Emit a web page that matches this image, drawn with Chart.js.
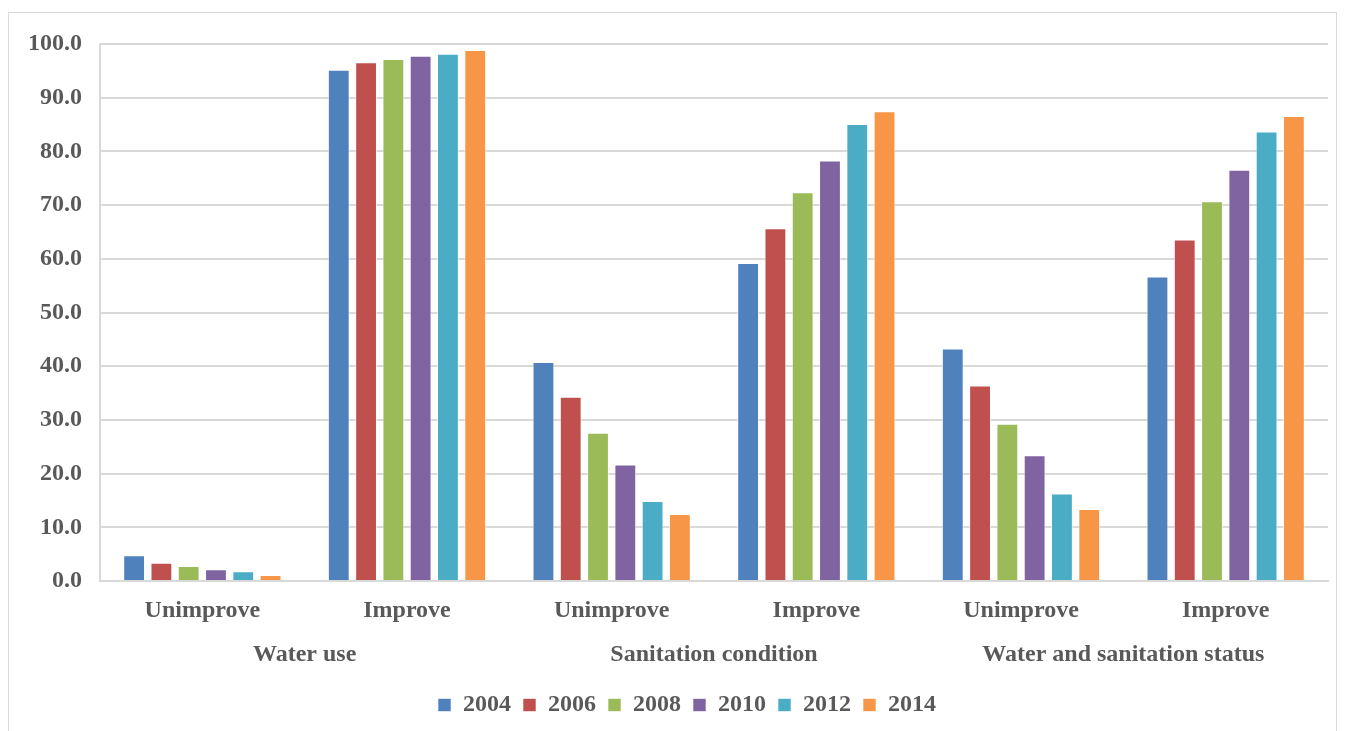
<!DOCTYPE html>
<html>
<head>
<meta charset="utf-8">
<script src="https://cdn.jsdelivr.net/npm/chart.js@4.4.1/dist/chart.umd.min.js"></script>
<style>
  html, body { margin: 0; padding: 0; background: #ffffff; }
  #frame { position: absolute; left: 8px; top: 12px; width: 1329px; height: 730px; border: 1px solid #d9d9d9; box-sizing: border-box; }
  #wrap { position: absolute; left: 0; top: 0; width: 1346px; height: 731px; }
</style>
</head>
<body>
<div id="frame"></div>
<div id="wrap"><canvas id="c" width="1346" height="731"></canvas></div>
<script>
const categories = ['Unimprove', 'Improve', 'Unimprove', 'Improve', 'Unimprove', 'Improve'];
const groups = ['Water use', 'Sanitation condition', 'Water and sanitation status'];
const years = ['2004', '2006', '2008', '2010', '2012', '2014'];
const y2004 = [4.8, 95.2, 40.8, 59.2, 43.3, 56.7];
const y2006 = [3.4, 96.6, 34.3, 65.7, 36.4, 63.6];
const y2008 = [2.8, 97.2, 27.6, 72.4, 29.3, 70.7];
const y2010 = [2.2, 97.8, 21.7, 78.3, 23.4, 76.6];
const y2012 = [1.8, 98.2, 14.9, 85.1, 16.3, 83.7];
const y2014 = [1.1, 98.9, 12.5, 87.5, 13.4, 86.6];
const yTicks = [0, 10, 20, 30, 40, 50, 60, 70, 80, 90, 100];

const colors = ['#4F81BD', '#C0504D', '#9BBB59', '#8064A2', '#4BACC6', '#F79646'];
const series = [y2004, y2006, y2008, y2010, y2012, y2014];

const FONT = "'Liberation Serif', 'Times New Roman', serif";
const TXT = '#595959';

const legendShift = {
  id: 'legendShift',
  afterLayout(chart) {
    if (chart.legend) { chart.legend.left += 19; chart.legend.right += 19; }
  }
};

new Chart(document.getElementById('c'), {
  type: 'bar',
  plugins: [legendShift],
  data: {
    labels: categories,
    datasets: series.map((s, i) => ({
      label: years[i],
      data: s,
      backgroundColor: colors[i],
      borderColor: 'rgba(255,255,255,0.6)',
      borderWidth: 1,
      categoryPercentage: 0.8,
      barPercentage: 0.8,
      xAxisID: 'x'
    }))
  },
  options: {
    responsive: false,
    animation: false,
    devicePixelRatio: 1,
    layout: { padding: { left: 8, right: 18, top: 44, bottom: 4 } },
    plugins: {
      tooltip: { enabled: false },
      legend: {
        position: 'bottom',
        labels: {
          color: TXT,
          font: { family: FONT, size: 24, weight: 'bold' },
          boxWidth: 13,
          boxHeight: 13,
          padding: 12
        }
      }
    },
    scales: {
      y: {
        min: 0, max: 100,
        afterBuildTicks: (scale) => { scale.ticks = yTicks.map(v => ({ value: v })); },
        afterFit: (scale) => { scale.width = 92; },
        ticks: {
          color: TXT,
          padding: 18,
          font: { family: FONT, size: 24, weight: 'bold' },
          callback: (v) => Number(v).toFixed(1)
        },
        grid: { color: '#d9d9d9', lineWidth: 2, drawTicks: false },
        border: { display: true, color: '#d9d9d9', width: 2 }
      },
      x: {
        position: 'bottom',
        grid: { display: false, drawTicks: false },
        border: { display: true, color: '#d9d9d9', width: 2 },
        afterFit: (scale) => { scale.height = 42; },
        ticks: {
          color: TXT,
          padding: 15,
          maxRotation: 0,
          font: { family: FONT, size: 24, weight: 'bold' }
        }
      },
      x2: {
        type: 'category',
        position: 'bottom',
        labels: groups,
        offset: true,
        grid: { display: false, drawTicks: false },
        border: { display: false },
        afterFit: (scale) => { scale.height = 58; },
        ticks: {
          color: TXT,
          padding: 17,
          maxRotation: 0,
          font: { family: FONT, size: 24, weight: 'bold' }
        }
      }
    }
  }
});
</script>
</body>
</html>
